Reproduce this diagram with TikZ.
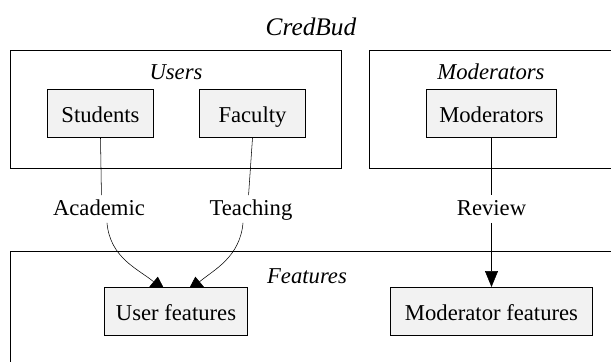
\documentclass[tikz,border=0pt]{standalone}
\usepackage{fontspec}
\newfontfamily\dotfont{Liberation Serif}
\usetikzlibrary{arrows.meta,backgrounds}

\definecolor{boxfill}{HTML}{F2F2F2}

\tikzset{
	box/.style={draw,fill=boxfill,minimum height=36pt,inner sep=0pt,text height=15pt,text depth=1.5pt,font=\dotfont\fontsize{17}{20}\selectfont},
	cluster/.style={draw},
	clustername/.style={inner sep=0pt,font=\dotfont\fontsize{17}{20}\selectfont\itshape},
	lbl/.style={fill=white,inner xsep=1pt,inner ysep=1.5pt,text height=13pt,text depth=4pt,font=\dotfont\fontsize{17}{20}\selectfont},
	edge/.style={-{Triangle[length=12pt,width=9.75pt]}},
}

\begin{document}
\begin{tikzpicture}[x=0.75pt,y=-0.75pt,line width=0.75pt]
	
	%\draw[help lines,step=50] (0,0) grid (611,361);
	\useasboundingbox (0,0) rectangle (611,361);
	
	\node[clustername,font=\dotfont\fontsize{19}{22}\selectfont\itshape] (credbud) at (311,27) {CredBud};
	
	\draw[cluster] (10.5,50.5) rectangle (341.5,168.5);
	\draw[cluster] (369.5,50.5) rectangle (640,168.5);
	\draw[cluster] (10.5,251.5) rectangle (640,400);
	
	\node[clustername] (users) at (176,72.5) {Users};
	\node[clustername] (mods) at (491,72) {Moderators};
	\node[clustername] (feats) at (307,276.5) {Features};
	
	\node[box,minimum width=79.5pt] (stud) at (100.5,113.5) {Students};
	\node[box,minimum width=79.5pt] (fac) at (252.5,113.5) {Faculty};
	\node[box,minimum width=97.5pt] (mod) at (491.5,113.5) {Moderators};
	\node[box,minimum width=107.25pt] (uf) at (176,311.5) {User features};
	\node[box,minimum width=151.5pt] (mf) at (491.5,311.5) {Moderator features};
	
	\node[lbl] (aca) at (99,209) {Academic};
	\node[lbl] (tea) at (251,209) {Teaching};
	\node[lbl] (rev) at (491.5,209) {Review};
	
	% edges behind the boxes, tips run into them
	\begin{pgfonlayer}{background}
		\draw (stud.south) -- (aca.80);
		\draw[edge] (aca.-60) to[out=-85,in=140] ([shift={(4,5)}]uf.120);
		\draw (fac.south) -- (tea.100);
		\draw[edge] (tea.-120) to[out=-95,in=40] ([shift={(-4,5)}]uf.58);
		\draw (mod) -- (rev);
		\draw[edge] (rev) -- (mf);
	\end{pgfonlayer}
	
\end{tikzpicture}
\end{document}
